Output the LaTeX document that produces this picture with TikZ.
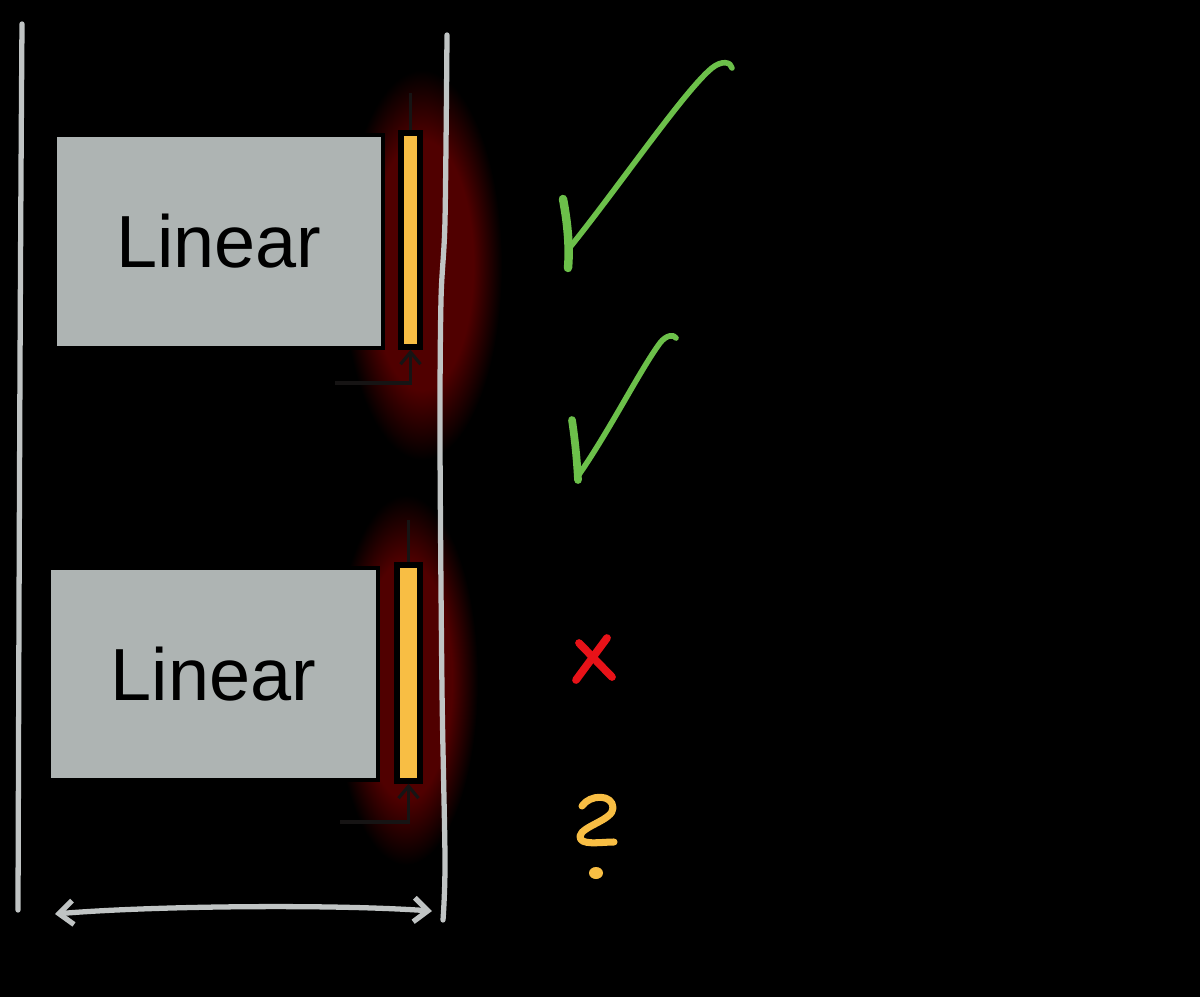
\documentclass[tikz,border=0pt]{standalone}
\usepackage{fontspec}
\setmainfont{Liberation Sans}
\usepackage{xcolor}
\usetikzlibrary{arrows.meta}
\definecolor{railgray}{RGB}{192,196,196}
\definecolor{boxgray}{RGB}{174,180,179}
\definecolor{biasyellow}{RGB}{248,190,68}
\definecolor{glowred}{RGB}{80,0,0}
\definecolor{wiredark}{RGB}{22,20,20}
\definecolor{okgreen}{RGB}{108,192,74}
\definecolor{badred}{RGB}{232,18,24}
\pgfdeclareradialshading{glowshade}{\pgfpoint{0bp}{0bp}}{color(0bp)=(glowred); color(16bp)=(glowred); color(25bp)=(black); color(50bp)=(black)}
\tikzset{
	linbox/.style={draw=black, line width=1pt, fill=boxgray, inner sep=0pt, font=\fontsize{21}{25}\selectfont},
	biasbar/.style={draw=black, line width=1.5pt, fill=biasyellow, inner sep=0pt},
	rail/.style={railgray, line width=1.5pt, line cap=round},
	wire/.style={wiredark, line width=0.9pt},
	tick/.style={okgreen, line width=1.6pt, line cap=round, line join=round},
}

\begin{document}
\begin{tikzpicture}[x=0.01cm, y=-0.01cm]
	\fill[black] (0,0) rectangle (1200,997);
	\useasboundingbox (0,0) rectangle (1200,997);
	
	% glow behind the bias bars
	\shade[shading=glowshade] (422,265) ellipse [x radius=0.8cm, y radius=1.95cm];
	\shade[shading=glowshade] (406,680) ellipse [x radius=0.72cm, y radius=1.85cm];
	
	% side rails
	\draw[rail] (22,24) .. controls (20,300) and (19,600) .. (18,910);
	\draw[rail] plot[smooth] coordinates {(447,35) (445,220) (441,300) (440,440) (442,690) (445,860) (443,920)};
	
	\node[linbox, minimum width=3.28cm, minimum height=2.13cm] (lin1) at (219,241.5) {Linear};
	\node[linbox, minimum width=3.29cm, minimum height=2.12cm] (lin2) at (213.5,674) {Linear};
	
	\node[biasbar, minimum width=0.19cm, minimum height=2.14cm] (bias1) at (410.5,240) {};
	\node[biasbar, minimum width=0.23cm, minimum height=2.16cm] (bias2) at (408.5,673) {};
	
	\coordinate (in1) at (335,383);
	\coordinate (out1) at (411,93);
	\coordinate (in2) at (340,822);
	\coordinate (out2) at (408,520);
	\draw[wire, -{Straight Barb[length=1.2mm, width=2mm]}] (in1) -| (bias1.south);
	\draw[wire] (bias1.north) -- (bias1.north |- out1);
	\draw[wire, -{Straight Barb[length=1.2mm, width=2mm]}] (in2) -| (bias2.south);
	\draw[wire] (bias2.north) -- (bias2.north |- out2);
	
	% width arrow
	\coordinate (wl) at (55,914);
	\coordinate (wr) at (432,911);
	\draw[rail, {Straight Barb[length=1.4mm, width=2.4mm]}-{Straight Barb[length=1.4mm, width=2.4mm]}] (wl) .. controls (150,906) and (330,904) .. (wr);
	
	% marks
	\draw[tick, line width=2.4pt] (563,199) .. controls (567,220) and (570,245) .. (568,268);
	\draw[tick] (571,246) .. controls (620,185) and (685,90) .. (712,68) .. controls (722,60) and (731,62) .. (732,68);
	\draw[tick, line width=2.2pt] (572,420) .. controls (575,440) and (577,460) .. (578,480);
	\draw[tick] (578,476) .. controls (610,430) and (640,370) .. (660,343) .. controls (666,335) and (674,334) .. (676,338);
	
	\draw[badred, line width=2.2pt, line cap=round] (576,680) -- (607,638);
	\draw[badred, line width=2.2pt, line cap=round] (579,643) -- (612,677);
	
	\draw[biasyellow, line width=2pt, line cap=round, line join=round] (582,806) .. controls (590,794) and (613,794) .. (613,808) .. controls (613,820) and (582,826) .. (580,836) .. controls (579,846) and (600,842) .. (614,842);
	\fill[biasyellow] (596,873) ellipse [x radius=0.07cm, y radius=0.06cm];
\end{tikzpicture}
\end{document}
